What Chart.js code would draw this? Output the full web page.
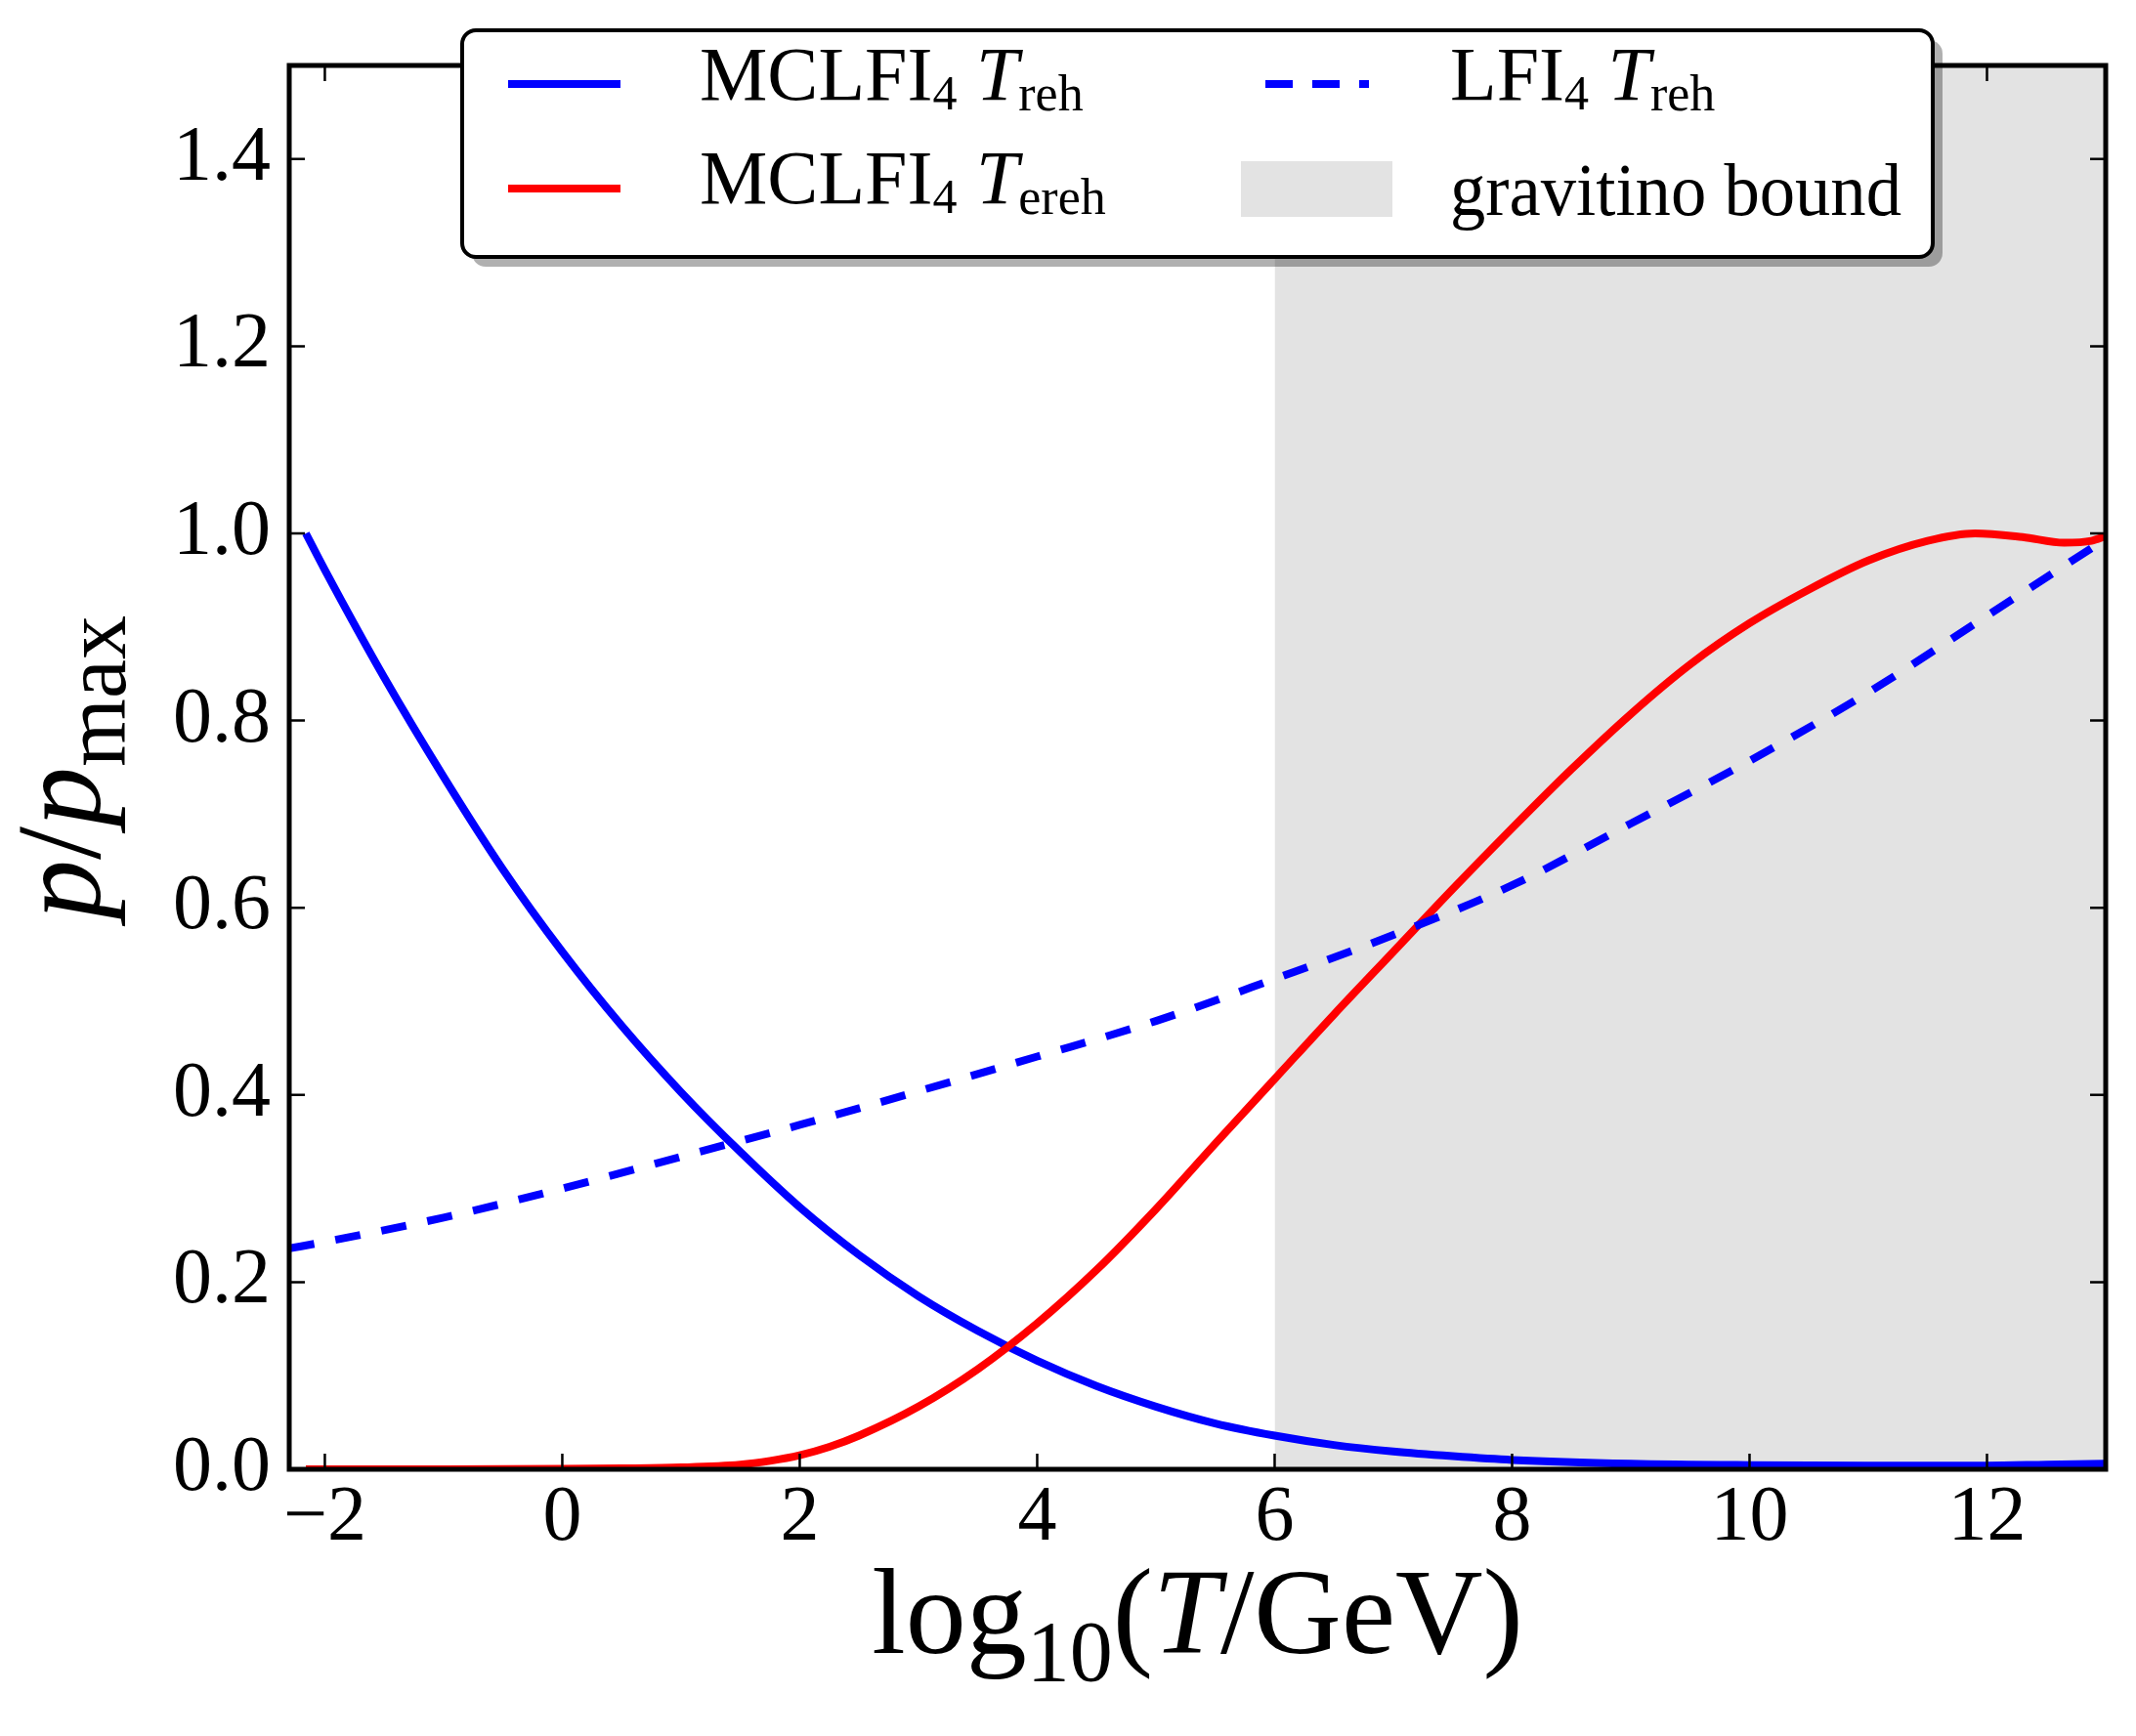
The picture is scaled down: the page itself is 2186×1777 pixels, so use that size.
<!DOCTYPE html>
<html lang="en">
<head>
  <meta charset="UTF-8">
  <title>p/pmax vs log10(T/GeV)</title>
  <script src="https://cdn.jsdelivr.net/npm/chart.js"></script>
  <style>
    body { margin: 0; background: #fff; }
    #wrap { position: relative; width: 2186px; height: 1777px; }
  </style>
</head>
<body>
  <div id="wrap"><canvas id="chart" width="2186" height="1777"></canvas></div>

  <script>
    // MCLFI4 T_reh (blue solid)
    const blueX = [-2.16, -2.0, -1.5, -1.0, -0.5, 0, 0.5, 1.0, 1.5, 2.0, 2.5, 3.0, 3.5, 4.0, 4.5, 5.0, 5.5, 6.0, 6.5, 7.0, 7.5, 8.0, 9.0, 10.0, 11.0, 12.0, 12.5, 13.0];
    const blueY = [1.0, 0.961, 0.846, 0.74, 0.641, 0.553, 0.474, 0.403, 0.339, 0.28, 0.229, 0.185, 0.148, 0.116, 0.089, 0.067, 0.049, 0.036, 0.026, 0.019, 0.014, 0.010, 0.006, 0.0045, 0.004, 0.004, 0.005, 0.006];

    // MCLFI4 T_ereh (red solid)
    const redX = [-2.16, -1, 0, 0.5, 1.0, 1.5, 1.75, 2.0, 2.25, 2.5, 3.0, 3.5, 4.0, 4.5, 5.0, 5.5, 6.0, 6.5, 7.0, 7.5, 8.0, 8.5, 9.0, 9.5, 10.0, 10.5, 11.0, 11.5, 11.9, 12.3, 12.65, 12.88, 13.0];
    const redY = [0, 0, 0.0005, 0.001, 0.002, 0.005, 0.009, 0.015, 0.024, 0.036, 0.067, 0.107, 0.156, 0.213, 0.278, 0.348, 0.417, 0.486, 0.553, 0.62, 0.685, 0.748, 0.807, 0.86, 0.904, 0.94, 0.971, 0.992, 1.0, 0.996, 0.99, 0.992, 0.997];

    // LFI4 T_reh (blue dashed)
    const dashX = [-2.3, -2, -1, 0, 1, 2, 3, 4, 5, 6, 7, 8, 9, 10, 11, 12, 13];
    const dashY = [0.236, 0.243, 0.269, 0.30, 0.334, 0.368, 0.404, 0.441, 0.479, 0.524, 0.571, 0.624, 0.69, 0.757, 0.83, 0.912, 0.994];

    // gravitino bound band
    const boundX = [6, 13];
    const boundY = [1.5, 1.5];

    const xTicks = [-2, 0, 2, 4, 6, 8, 10, 12];
    const yTicks = [0, 0.2, 0.4, 0.6, 0.8, 1.0, 1.2, 1.4];

    const FONT = '"Liberation Serif", "DejaVu Serif", serif';
    const pts = (xs, ys) => xs.map((v, i) => ({ x: v, y: ys[i] }));

    // draw a run of text pieces: [text, size, italic, dy]
    function rich(ctx, x, y, parts, measureOnly) {
      let cx = x;
      parts.forEach(p => {
        ctx.font = (p[2] ? 'italic ' : '') + p[1] + 'px ' + FONT;
        if (!measureOnly) ctx.fillText(p[0], cx, y + (p[3] || 0));
        cx += ctx.measureText(p[0]).width;
      });
      return cx - x;
    }

    const frame = {
      id: 'frame',
      afterDraw(chart) {
        const { ctx, chartArea: a, scales: { x, y } } = chart;
        ctx.save();
        ctx.strokeStyle = '#000';
        ctx.lineWidth = 2.5;
        ctx.beginPath();
        xTicks.forEach(v => {
          const px = x.getPixelForValue(v);
          ctx.moveTo(px, a.bottom); ctx.lineTo(px, a.bottom - 16);
          ctx.moveTo(px, a.top); ctx.lineTo(px, a.top + 16);
        });
        yTicks.forEach(v => {
          const py = y.getPixelForValue(v);
          ctx.moveTo(a.left, py); ctx.lineTo(a.left + 16, py);
          ctx.moveTo(a.right, py); ctx.lineTo(a.right - 16, py);
        });
        ctx.stroke();
        ctx.lineWidth = 5;
        ctx.strokeRect(a.left, a.top, a.right - a.left, a.bottom - a.top);

        // legend
        ctx.fillStyle = 'rgba(0,0,0,0.31)';
        ctx.beginPath(); ctx.roundRect(483, 41, 1505, 232, 14); ctx.fill();
        ctx.fillStyle = '#fff';
        ctx.beginPath(); ctx.roundRect(473, 31, 1505, 232, 14); ctx.fill();
        ctx.lineWidth = 4; ctx.stroke();

        ctx.lineWidth = 8;
        ctx.strokeStyle = '#0000ff';
        ctx.beginPath(); ctx.moveTo(520, 86); ctx.lineTo(635, 86); ctx.stroke();
        ctx.strokeStyle = '#ff0000';
        ctx.beginPath(); ctx.moveTo(520, 193); ctx.lineTo(635, 193); ctx.stroke();
        ctx.strokeStyle = '#0000ff';
        ctx.setLineDash([28, 20]);
        ctx.beginPath(); ctx.moveTo(1295, 86); ctx.lineTo(1401, 86); ctx.stroke();
        ctx.setLineDash([]);
        ctx.fillStyle = '#e3e3e3';
        ctx.fillRect(1270, 165, 155, 57);

        ctx.fillStyle = '#000';
        ctx.textBaseline = 'alphabetic';
        rich(ctx, 716, 102, [['MCLFI', 78], ['4', 50, false, 10], [' ', 78], ['T', 78, true], ['reh', 52, false, 11]]);
        rich(ctx, 716, 208, [['MCLFI', 78], ['4', 50, false, 10], [' ', 78], ['T', 78, true], ['ereh', 52, false, 11]]);
        rich(ctx, 1484, 102, [['LFI', 78], ['4', 50, false, 10], [' ', 78], ['T', 78, true], ['reh', 52, false, 11]]);
        const gb = [['gravitino bound', 76]];
        const gw = rich(ctx, 0, 0, gb, true);
        ctx.save();
        ctx.translate(1484, 220);
        ctx.scale(462 / gw, 1);
        rich(ctx, 0, 0, gb);
        ctx.restore();

        // x title
        const xt = [['log', 124], ['10', 88, false, 28], ['(', 124], ['T', 124, true], ['/GeV)', 124]];
        const xw = rich(ctx, 0, 0, xt, true);
        rich(ctx, (a.left + a.right) / 2 - xw / 2, 1692, xt);

        // y title
        const yt = [['p', 122, true], ['/', 122], ['p', 122, true], ['max', 90, false, 26]];
        const yw = rich(ctx, 0, 0, yt, true);
        ctx.translate(102, (a.top + a.bottom) / 2);
        ctx.rotate(-Math.PI / 2);
        rich(ctx, -yw / 2, 0, yt);
        ctx.restore();
      }
    };

    const lineStyle = { pointRadius: 0, borderWidth: 8, fill: false, cubicInterpolationMode: 'monotone', borderCapStyle: 'butt' };

    new Chart(document.getElementById('chart'), {
      type: 'line',
      data: {
        datasets: [
          Object.assign({ label: 'LFI4 Treh', data: pts(dashX, dashY), borderColor: '#0000ff', borderDash: [26, 22], order: 0 }, lineStyle),
          Object.assign({ label: 'MCLFI4 Tereh', data: pts(redX, redY), borderColor: '#ff0000', order: 1 }, lineStyle),
          Object.assign({ label: 'MCLFI4 Treh', data: pts(blueX, blueY), borderColor: '#0000ff', order: 2 }, lineStyle),
          { label: 'gravitino bound', data: pts(boundX, boundY), borderWidth: 0, pointRadius: 0, fill: 'origin', backgroundColor: '#e3e3e3', order: 3 }
        ]
      },
      options: {
        responsive: false,
        devicePixelRatio: 1,
        animation: false,
        layout: { padding: { top: 63, right: 31, left: 0, bottom: 0 } },
        plugins: { legend: { display: false }, tooltip: { enabled: false } },
        scales: {
          x: {
            type: 'linear', min: -2.3, max: 13,
            grid: { display: false, drawTicks: false },
            border: { display: false },
            afterBuildTicks: s => { s.ticks = xTicks.map(v => ({ value: v })); },
            afterFit: s => { s.height = 273; },
            ticks: {
              padding: 3, color: '#000', maxRotation: 0,
              font: { family: FONT, size: 80 },
              callback: v => v < 0 ? '\u2212' + Math.abs(v) : String(v)
            }
          },
          y: {
            type: 'linear', min: 0, max: 1.5,
            grid: { display: false, drawTicks: false },
            border: { display: false },
            afterBuildTicks: s => { s.ticks = yTicks.map(v => ({ value: v })); },
            afterFit: s => { s.width = 296; },
            ticks: {
              padding: 19, color: '#000',
              font: { family: FONT, size: 80 },
              callback: v => Number(v).toFixed(1)
            }
          }
        }
      },
      plugins: [frame]
    });
  </script>
</body>
</html>
